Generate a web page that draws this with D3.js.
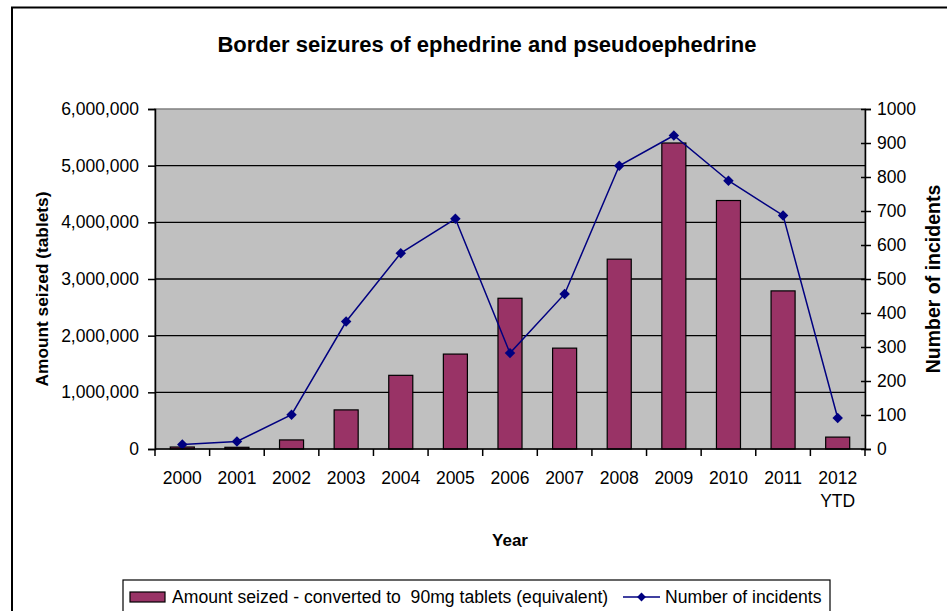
<!DOCTYPE html>
<html>
<head>
<meta charset="utf-8">
<script src="https://cdn.jsdelivr.net/npm/d3@7"></script>
<style>
  html, body { margin: 0; padding: 0; background: #fff; }
  svg { display: block; font-family: "Liberation Sans", Arial, sans-serif; }
  text { white-space: pre; }
</style>
</head>
<body>
<svg id="chart" width="947" height="611"></svg>
<script>
// Years (x categories); the last one is a partial year
const years = ["2000", "2001", "2002", "2003", "2004", "2005", "2006",
               "2007", "2008", "2009", "2010", "2011", "2012"];
const yearSub = ["", "", "", "", "", "", "", "", "", "", "", "", "YTD"];

// Amount seized, converted to 90mg tablet equivalents
const amountSeized = [35000, 30000, 160000, 690000, 1300000, 1675000, 2660000,
                      1780000, 3350000, 5400000, 4385000, 2790000, 210000];

// Number of incidents (right axis)
const incidents = [13, 22, 101, 375, 576, 677, 282, 456, 833, 922, 789, 687, 91];

const leftTicks = [0, 1000000, 2000000, 3000000, 4000000, 5000000, 6000000];
const rightTicks = [0, 100, 200, 300, 400, 500, 600, 700, 800, 900, 1000];

const svg = d3.select("#chart");
const plot = { left: 155, right: 865, top: 109, bottom: 449 };
const FONT = "Liberation Sans, Arial, sans-serif";

const x = d3.scaleBand().domain(years).range([plot.left, plot.right]).paddingInner(0.56).paddingOuter(0.28);
const xBand = d3.scaleBand().domain(years).range([plot.left, plot.right]);
const yL = d3.scaleLinear().domain([0, 6000000]).range([plot.bottom, plot.top]);
const yR = d3.scaleLinear().domain([0, 1000]).range([plot.bottom, plot.top]);

// Outer chart frame
svg.append("rect").attr("x", 12).attr("y", 7.5).attr("width", 940).attr("height", 620)
  .attr("fill", "#fff").attr("stroke", "#000").attr("stroke-width", 2);

// Title
svg.append("text").attr("x", 487).attr("y", 52).attr("text-anchor", "middle")
  .attr("font-size", 22).attr("font-weight", "bold").text("Border seizures of ephedrine and pseudoephedrine");

// Plot background
svg.append("rect").attr("x", plot.left).attr("y", plot.top)
  .attr("width", plot.right - plot.left).attr("height", plot.bottom - plot.top)
  .attr("fill", "#c0c0c0").attr("stroke", "#808080").attr("stroke-width", 1.5);

// Horizontal gridlines
svg.append("g").selectAll("line").data(leftTicks.slice(1, -1)).join("line")
  .attr("x1", plot.left).attr("x2", plot.right)
  .attr("y1", d => yL(d)).attr("y2", d => yL(d))
  .attr("stroke", "#000").attr("stroke-width", 1.3);

// Bars
svg.append("g").selectAll("rect").data(years).join("rect")
  .attr("x", d => x(d)).attr("width", x.bandwidth())
  .attr("y", (d, i) => yL(amountSeized[i]))
  .attr("height", (d, i) => plot.bottom - yL(amountSeized[i]))
  .attr("fill", "#993366").attr("stroke", "#000").attr("stroke-width", 1.2);

// Incidents line
const line = d3.line().x((d, i) => xBand(years[i]) + xBand.bandwidth() / 2).y(d => yR(d));
svg.append("path").datum(incidents).attr("d", line)
  .attr("fill", "none").attr("stroke", "#000080").attr("stroke-width", 1.5);
const diamond = d3.symbol().type(d3.symbolDiamond2).size(70);
svg.append("g").selectAll("path").data(incidents).join("path")
  .attr("transform", (d, i) => `translate(${xBand(years[i]) + xBand.bandwidth() / 2},${yR(d)})`)
  .attr("d", diamond).attr("fill", "#000080");

// Left axis
const leftAxis = d3.axisLeft(yL).tickValues(leftTicks).tickSize(7).tickPadding(9)
  .tickFormat(d3.format(",.0f"));
const gl = svg.append("g").attr("transform", `translate(${plot.left},0)`).call(leftAxis);
gl.select(".domain").attr("stroke", "#000").attr("stroke-width", 1.5);
gl.selectAll(".tick line").attr("stroke", "#000").attr("stroke-width", 1.5);
gl.selectAll(".tick text").attr("font-size", 17.5).attr("font-family", FONT).attr("fill", "#000");

// Right axis
const rightAxis = d3.axisRight(yR).tickValues(rightTicks).tickSize(6).tickPadding(6)
  .tickFormat(d3.format("d"));
const gr = svg.append("g").attr("transform", `translate(${plot.right},0)`).call(rightAxis);
gr.select(".domain").attr("stroke", "#000").attr("stroke-width", 1.5);
gr.selectAll(".tick line").attr("stroke", "#000").attr("stroke-width", 1.5).attr("x1", -4);
gr.selectAll(".tick text").attr("font-size", 17.5).attr("font-family", FONT).attr("fill", "#000");

// Bottom axis: ticks between categories, labels centred in each band
const gb = svg.append("g");
gb.append("line").attr("x1", plot.left).attr("x2", plot.right)
  .attr("y1", plot.bottom).attr("y2", plot.bottom).attr("stroke", "#000").attr("stroke-width", 1.5);
const boundaries = years.map(d => xBand(d)).concat([plot.right]);
gb.selectAll("line.tk").data(boundaries).join("line").attr("class", "tk")
  .attr("x1", d => d).attr("x2", d => d).attr("y1", plot.bottom).attr("y2", plot.bottom + 7)
  .attr("stroke", "#000").attr("stroke-width", 1.5);
gb.selectAll("text.yr").data(years).join("text").attr("class", "yr")
  .attr("x", d => xBand(d) + xBand.bandwidth() / 2).attr("y", 484)
  .attr("text-anchor", "middle").attr("font-size", 17.5).text(d => d);
gb.selectAll("text.sub").data(yearSub).join("text").attr("class", "sub")
  .attr("x", (d, i) => xBand(years[i]) + xBand.bandwidth() / 2).attr("y", 507)
  .attr("text-anchor", "middle").attr("font-size", 17.5).text(d => d);

// Axis titles
svg.append("text").attr("x", 510).attr("y", 546).attr("text-anchor", "middle")
  .attr("font-size", 17).attr("font-weight", "bold").text("Year");
svg.append("text").attr("transform", `translate(48,${(plot.top + plot.bottom) / 2 + 10}) rotate(-90)`)
  .attr("text-anchor", "middle").attr("font-size", 17.3).attr("font-weight", "bold")
  .text("Amount seized (tablets)");
svg.append("text").attr("transform", `translate(940,${(plot.top + plot.bottom) / 2}) rotate(-90)`)
  .attr("text-anchor", "middle").attr("font-size", 19.5).attr("font-weight", "bold")
  .text("Number of incidents");

// Legend
const lg = svg.append("g");
lg.append("rect").attr("x", 123).attr("y", 580).attr("width", 707).attr("height", 40)
  .attr("fill", "#fff").attr("stroke", "#000").attr("stroke-width", 1.2);
lg.append("rect").attr("x", 130).attr("y", 592).attr("width", 35).attr("height", 10)
  .attr("fill", "#993366").attr("stroke", "#000").attr("stroke-width", 1.2);
lg.append("text").attr("x", 172).attr("y", 603).attr("font-size", 17.6)
  .text("Amount seized - converted to  90mg tablets (equivalent)");
lg.append("line").attr("x1", 623).attr("x2", 660).attr("y1", 597).attr("y2", 597)
  .attr("stroke", "#000080").attr("stroke-width", 1.5);
lg.append("path").attr("transform", "translate(641.5,597)").attr("d", d3.symbol().type(d3.symbolDiamond2).size(50))
  .attr("fill", "#000080");
lg.append("text").attr("x", 665).attr("y", 603).attr("font-size", 17.6).text("Number of incidents");
</script>
</body>
</html>
